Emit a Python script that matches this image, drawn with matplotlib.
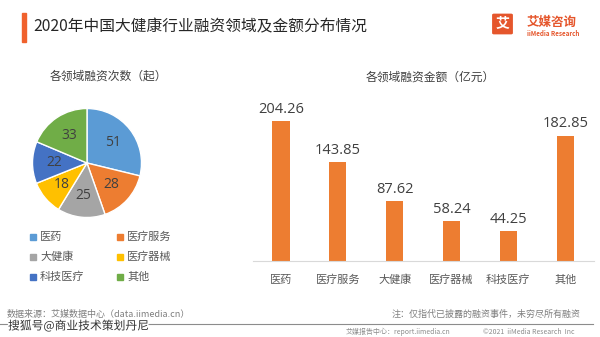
import matplotlib.pyplot as plt
from matplotlib.patches import Rectangle, FancyBboxPatch
import matplotlib.patheffects as pe

plt.rcParams['font.family'] = ['Noto Sans CJK SC', 'DejaVu Sans']

# data
pie_labels = ['医药', '医疗服务', '大健康', '医疗器械', '科技医疗', '其他']
pie_counts = [51, 28, 25, 18, 22, 33]
pie_colors = ['#5B9BD5', '#ED7D31', '#A5A5A5', '#FFC000', '#4472C4', '#70AD47']

bar_labels = ['医药', '医疗服务', '大健康', '医疗器械', '科技医疗', '其他']
bar_values = [204.26, 143.85, 87.62, 58.24, 44.25, 182.85]

W, H = 600, 337
fig = plt.figure(figsize=(6, 3.37), dpi=100)


def fx(x):
    return x / W


def fy(y):
    return 1 - y / H


txt = '#404040'

# header
fig.patches.append(Rectangle((fx(22), fy(42)), fx(4), 29 / H, transform=fig.transFigure,
                             color='#F0612D', zorder=3))
fig.text(fx(33), fy(27), '2020年中国大健康行业融资领域及金额分布情况', fontsize=11.3,
         color='#262626', va='center', ha='left')
fig.patches.append(FancyBboxPatch((fx(494), fy(33)), fx(17), 18 / H,
                                  boxstyle='round,pad=0.002', transform=fig.transFigure,
                                  color='#E5562C', zorder=3))
fig.text(fx(502.5), fy(24), '艾', fontsize=10, color='white', fontweight='bold',
         ha='center', va='center', zorder=4)
fig.text(fx(527), fy(22), '艾媒咨询', fontsize=9, color='#E5562C', fontweight='bold',
         ha='left', va='center')
fig.text(fx(527), fy(33), 'iiMedia Research', fontsize=4.5, color='#E5562C',
         fontweight='bold', ha='left', va='center')

# pie
cx, cy, r = 87, 163, 54.5
axp = fig.add_axes([fx(cx - r), fy(cy + r), 2 * r / W, 2 * r / H])
total = sum(pie_counts)
axp.pie(pie_counts, colors=pie_colors, startangle=90, counterclock=False,
        wedgeprops=dict(edgecolor='white', linewidth=1),
        autopct=lambda p: f'{p * total / 100:.0f}', pctdistance=0.6,
        textprops=dict(fontsize=10, color=txt, family='Open Sans'))
axp.set_xlim(-1, 1)
axp.set_ylim(-1, 1)
fig.text(fx(108), fy(76), '各领域融资次数（起）', fontsize=8.5, color=txt,
         ha='center', va='center')

# pie legend
leg_x = [33, 120]
leg_y = [237, 257, 277]
for i, lab in enumerate(pie_labels):
    x = leg_x[i % 2]
    y = leg_y[i // 2]
    fig.patches.append(Rectangle((fx(x - 3), fy(y + 3)), 6 / W, 6 / H,
                                 transform=fig.transFigure, color=pie_colors[i]))
    fig.text(fx(x + 7), fy(y), lab, fontsize=8, color='#595959', ha='left', va='center')

# bar chart
axb = fig.add_axes([fx(252.6), fy(261), 341 / W, 164.6 / H])
xs = range(len(bar_values))
axb.bar(xs, bar_values, width=0.3, color='#ED7D31')
for x, v in zip(xs, bar_values):
    axb.text(x, v + 6, f'{v:.2f}', ha='center', va='bottom', fontsize=10.5,
             color=txt, family='Open Sans')
axb.set_xlim(-0.5, 5.5)
axb.set_ylim(0, 240)
axb.set_xticks(list(xs))
axb.set_xticklabels(bar_labels, fontsize=8, color='#595959')
axb.tick_params(axis='x', length=0, pad=10)
axb.set_yticks([])
for s in ['top', 'right', 'left']:
    axb.spines[s].set_visible(False)
axb.spines['bottom'].set_color('#D9D9D9')
axb.patch.set_alpha(0)
fig.text(fx(430), fy(77), '各领域融资金额（亿元）', fontsize=8.5, color=txt,
         ha='center', va='center')

# footer
fig.text(fx(7), fy(314), '数据来源：艾媒数据中心（data.iimedia.cn）', fontsize=6.5,
         color='#7F7F7F', ha='left', va='center')
fig.text(fx(581), fy(314), '注：仅指代已披露的融资事件，未穷尽所有融资', fontsize=6.5,
         color='#7F7F7F', ha='right', va='center')
fig.lines.append(plt.Line2D([0, fx(593)], [fy(324), fy(324)], transform=fig.transFigure,
                            color='#8C8C8C', linewidth=0.8))
fig.text(fx(8), fy(326), '搜狐号@商业技术策划丹尼', fontsize=8.5, color='#333333',
         ha='left', va='center',
         path_effects=[pe.withStroke(linewidth=2, foreground='white')])
fig.text(fx(346), fy(332), '艾媒报告中心：report.iimedia.cn', fontsize=5, color='#8C8C8C',
         ha='left', va='center')
fig.text(fx(483), fy(332), '©2021  iiMedia Research  Inc', fontsize=5, color='#8C8C8C',
         ha='left', va='center')

plt.savefig('out.png', dpi=100)
